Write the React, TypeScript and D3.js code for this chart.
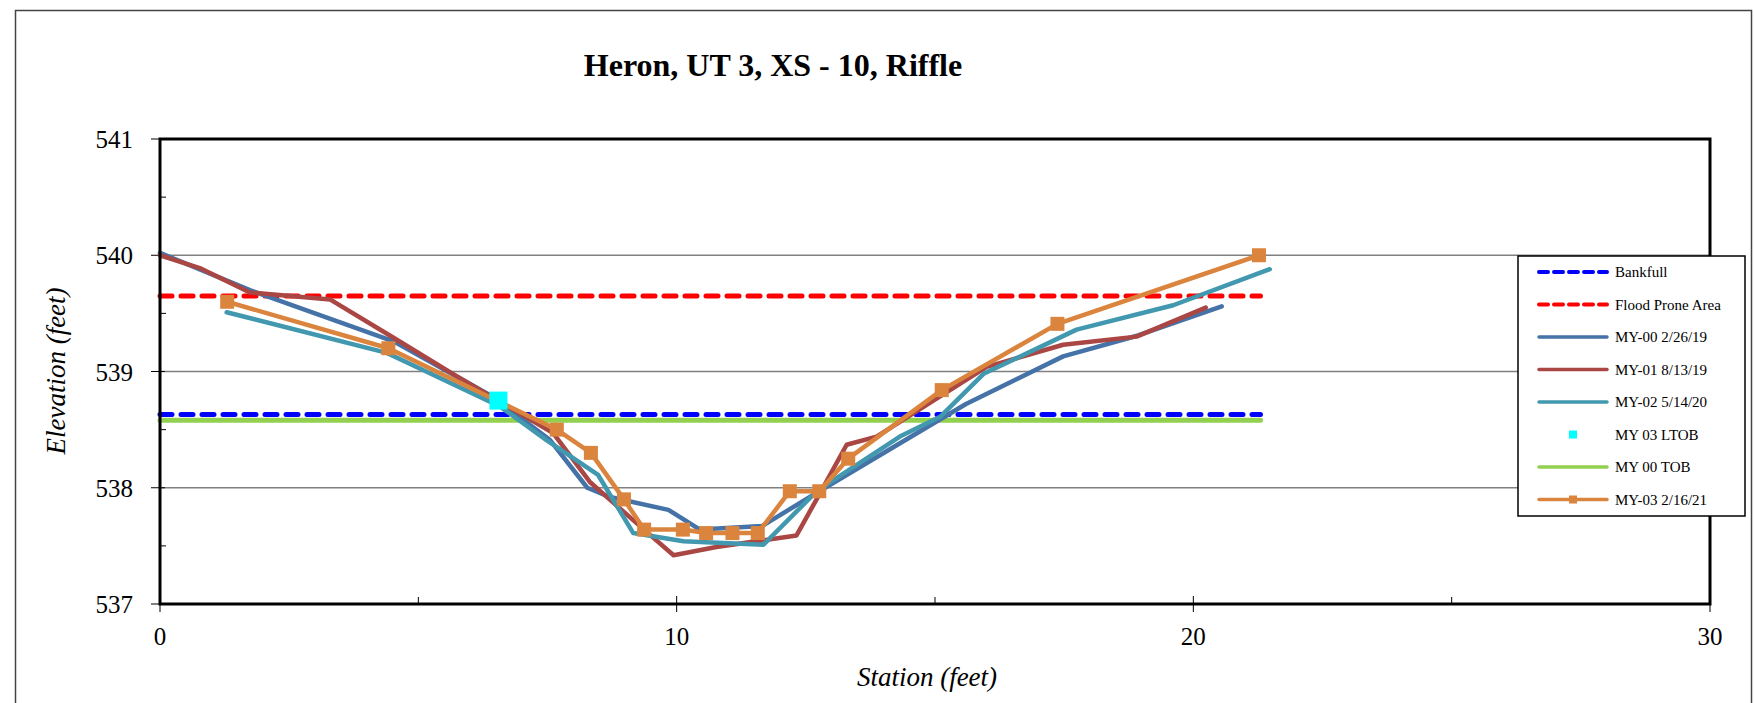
import React from "react";
import * as d3 from "d3";

const titleText = "Heron, UT 3, XS - 10, Riffle";
const xTicks = [0, 10, 20, 30];
const xMinorTicks = [5, 15, 25];
const yTicks = [537, 538, 539, 540, 541];
const yMinorTicks = [537.5, 538.5, 539.5, 540.5];

const refX = [0, 21.3];
const bankfullY = 538.63;
const floodY = 539.65;
const tobY = 538.58;

const my00X = [0, 1.74, 4.52, 6.45, 7.55, 8.27, 8.71, 9.84, 10.45, 11.65, 12.76, 15.6, 17.48, 18.93, 20.55];
const my00Y = [540.02, 539.7, 539.26, 538.78, 538.41, 538.0, 537.92, 537.81, 537.64, 537.67, 537.97, 538.72, 539.13, 539.31, 539.56];

const my01X = [0, 0.77, 1.74, 3.29, 4.52, 5.74, 7.61, 8.32, 9.29, 9.94, 10.77, 12.32, 12.77, 13.29, 13.87, 16.0, 17.48, 18.9, 20.24];
const my01Y = [540.0, 539.89, 539.68, 539.62, 539.29, 538.96, 538.47, 538.05, 537.67, 537.42, 537.49, 537.59, 537.95, 538.37, 538.44, 539.04, 539.23, 539.3, 539.55];

const my02X = [1.29, 4.39, 5.1, 6.58, 7.48, 8.48, 9.16, 10.13, 11.68, 12.71, 14.32, 15.1, 15.94, 17.74, 19.61, 21.48];
const my02Y = [539.51, 539.16, 539.01, 538.7, 538.41, 538.11, 537.61, 537.54, 537.51, 537.97, 538.44, 538.61, 538.98, 539.36, 539.57, 539.88];

const my03X = [1.3, 4.42, 7.68, 8.34, 8.98, 9.37, 10.12, 10.57, 11.08, 11.57, 12.19, 12.76, 13.32, 15.13, 17.37, 21.27];
const my03Y = [539.6, 539.2, 538.5, 538.3, 537.9, 537.64, 537.64, 537.61, 537.61, 537.61, 537.97, 537.97, 538.25, 538.84, 539.41, 540.0];

const ltobX = [6.55];
const ltobY = [538.75];

const legendLabels = [
  "Bankfull",
  "Flood Prone Area",
  "MY-00 2/26/19",
  "MY-01 8/13/19",
  "MY-02 5/14/20",
  "MY 03 LTOB",
  "MY 00 TOB",
  "MY-03 2/16/21",
];

const C = {
  bank: "#0000FF",
  flood: "#FF0000",
  my00: "#4572A7",
  my01: "#AA4643",
  my02: "#4198AF",
  ltob: "#00FFFF",
  tob: "#92D050",
  my03: "#DB843D",
};

const W = 1754;
const H = 703;
const L = 160, R = 1710, T = 139, B = 604;
const FONT = "'Liberation Serif', 'Times New Roman', serif";

export default function App() {
  const x = d3.scaleLinear().domain([0, 30]).range([L, R]);
  const y = d3.scaleLinear().domain([537, 541]).range([B, T]);
  const line = d3
    .line<[number, number]>()
    .x((d) => x(d[0]))
    .y((d) => y(d[1]));
  const zip = (xs: number[], ys: number[]) => xs.map((v, i) => [v, ys[i]] as [number, number]);
  const flat = (v: number) => refX.map((xv) => [xv, v] as [number, number]);

  const legX = 1518, legY = 256, legW = 227, legH = 260;
  const rowY = (i: number) => legY + 16 + i * 32.5;
  const legCols = [C.bank, C.flood, C.my00, C.my01, C.my02, C.ltob, C.tob, C.my03];

  return (
    <svg width={W} height={H} style={{ position: "absolute", left: 0, top: 0 }} fontFamily={FONT}>
      <rect x={0} y={0} width={W} height={H} fill="#fff" />
      <rect x={15.5} y={10.5} width={1736} height={720} fill="none" stroke="#444" strokeWidth={1.5} />

      <text x={773} y={76} textAnchor="middle" fontSize={32} fontWeight="bold">
        {titleText}
      </text>

      {/* gridlines */}
      {yTicks.slice(1, -1).map((t) => (
        <line key={"g" + t} x1={L} x2={R} y1={y(t)} y2={y(t)} stroke="#808080" strokeWidth={1.5} />
      ))}

      {/* y ticks */}
      {yTicks.map((t) => (
        <g key={"yt" + t}>
          <line x1={L - 9} x2={L + 5} y1={y(t)} y2={y(t)} stroke="#000" strokeWidth={1} />
          <text x={133} y={y(t) + 9} textAnchor="end" fontSize={25}>
            {t}
          </text>
        </g>
      ))}
      {yMinorTicks.map((t) => (
        <line key={"ym" + t} x1={L} x2={L + 6} y1={y(t)} y2={y(t)} stroke="#000" strokeWidth={1} />
      ))}
      {/* x ticks */}
      {xTicks.map((t) => (
        <g key={"xt" + t}>
          <line x1={x(t)} x2={x(t)} y1={B - 8} y2={B + 8} stroke="#000" strokeWidth={1} />
          <text x={x(t)} y={645} textAnchor="middle" fontSize={25}>
            {t}
          </text>
        </g>
      ))}
      {xMinorTicks.map((t) => (
        <line key={"xm" + t} x1={x(t)} x2={x(t)} y1={B - 7} y2={B} stroke="#000" strokeWidth={1} />
      ))}

      {/* axis titles */}
      <text x={927} y={686} textAnchor="middle" fontSize={27} fontStyle="italic">
        Station (feet)
      </text>
      <text transform="translate(65,371) rotate(-90)" textAnchor="middle" fontSize={27} fontStyle="italic">
        Elevation (feet)
      </text>

      {/* reference lines */}
      <path d={line(flat(bankfullY)) || ""} fill="none" stroke={C.bank} strokeWidth={5} strokeDasharray="12 9" strokeLinecap="round" />
      <path d={line(flat(floodY)) || ""} fill="none" stroke={C.flood} strokeWidth={5} strokeDasharray="12 9" strokeLinecap="round" />
      <path d={line(flat(tobY)) || ""} fill="none" stroke={C.tob} strokeWidth={5} strokeLinecap="round" />

      {/* series */}
      <path d={line(zip(my00X, my00Y)) || ""} fill="none" stroke={C.my00} strokeWidth={4.5} strokeLinecap="round" strokeLinejoin="round" />
      <path d={line(zip(my01X, my01Y)) || ""} fill="none" stroke={C.my01} strokeWidth={4.5} strokeLinecap="round" strokeLinejoin="round" />
      <path d={line(zip(my02X, my02Y)) || ""} fill="none" stroke={C.my02} strokeWidth={4.5} strokeLinecap="round" strokeLinejoin="round" />
      <path d={line(zip(my03X, my03Y)) || ""} fill="none" stroke={C.my03} strokeWidth={4.5} strokeLinecap="round" strokeLinejoin="round" />
      {zip(my03X, my03Y).map((d, i) => (
        <rect key={"m3" + i} x={x(d[0]) - 7} y={y(d[1]) - 7} width={14} height={14} fill={C.my03} />
      ))}
      {zip(ltobX, ltobY).map((d, i) => (
        <rect key={"lt" + i} x={x(d[0]) - 9} y={y(d[1]) - 9} width={18} height={18} fill={C.ltob} />
      ))}

      {/* plot border */}
      <rect x={L} y={T} width={R - L} height={B - T} fill="none" stroke="#000" strokeWidth={3} />

      {/* legend */}
      <rect x={legX} y={legY} width={legW} height={legH} fill="#fff" stroke="#000" strokeWidth={1.5} />
      {legendLabels.map((lab, i) => {
        const cy = rowY(i);
        const x1 = 1539, x2 = 1607;
        let sym: React.ReactNode = null;
        if (i === 0 || i === 1) {
          sym = <line x1={x1} x2={x2} y1={cy} y2={cy} stroke={legCols[i]} strokeWidth={4} strokeDasharray="9 6" strokeLinecap="round" />;
        } else if (i === 5) {
          sym = <rect x={1569} y={cy - 4} width={8} height={8} fill={C.ltob} />;
        } else {
          sym = (
            <g>
              <line x1={x1} x2={x2} y1={cy} y2={cy} stroke={legCols[i]} strokeWidth={3.5} strokeLinecap="round" />
              {i === 7 && <rect x={1569} y={cy - 4} width={8} height={8} fill={C.my03} />}
            </g>
          );
        }
        return (
          <g key={"lg" + i}>
            {sym}
            <text x={1615} y={cy + 5} fontSize={15}>
              {lab}
            </text>
          </g>
        );
      })}
    </svg>
  );
}
